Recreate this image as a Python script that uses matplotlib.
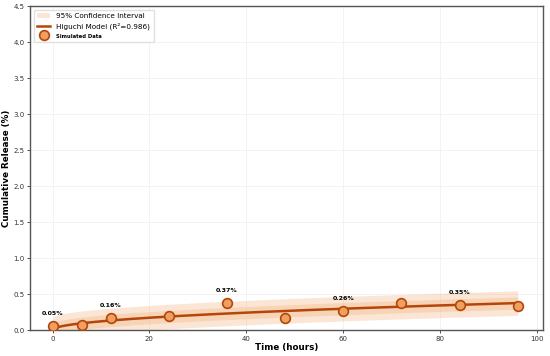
import numpy as np
import matplotlib
matplotlib.use("Agg")
import matplotlib.pyplot as plt

# simulated release data
time_h = [0, 6, 12, 24, 36, 48, 60, 72, 84, 96]
release = [0.05, 0.07, 0.16, 0.20, 0.37, 0.16, 0.26, 0.37, 0.35, 0.34]
label_idx = [0, 2, 4, 6, 8]

# Higuchi fit: Q = k * sqrt(t), least squares through origin
r2_text = "0.986"
ci_outer = 0.17
ci_inner = 0.085

t = np.array(time_h, dtype=float)
q = np.array(release)
k = np.sum(q * np.sqrt(t)) / np.sum(t)
t_fit = np.linspace(0, 96, 200)
q_fit = k * np.sqrt(t_fit)

line_c = "#B5460A"
fill_c = "#F4B98A"
marker_c = "#EFA060"

fig = plt.figure(figsize=(5.5, 3.56), dpi=100)
ax = fig.add_axes([0.055, 0.073, 0.932, 0.910])

ax.fill_between(t_fit, q_fit - ci_outer, q_fit + ci_outer, color=fill_c,
                alpha=0.35, linewidth=0, label="95% Confidence Interval")
ax.fill_between(t_fit, q_fit - ci_inner, q_fit + ci_inner, color=fill_c,
                alpha=0.4, linewidth=0)
ax.plot(t_fit, q_fit, color=line_c, linewidth=1.8,
        label=f"Higuchi Model (R²={r2_text})")
ax.plot(t, q, "o", markersize=7, markerfacecolor=marker_c,
        markeredgecolor=line_c, markeredgewidth=1.2, label="Simulated Data",
        zorder=5)

for i in label_idx:
    ax.annotate(f"{release[i]:.2f}%", (time_h[i], release[i]),
                textcoords="offset points", xytext=(0, 8), ha="center",
                fontsize=4.5, fontweight="bold")

ax.set_xlim(-4.6, 101.2)
ax.set_ylim(0, 4.5)
ax.set_xticks([0, 20, 40, 60, 80, 100])
ax.set_yticks(np.arange(0, 4.51, 0.5))
ax.tick_params(labelsize=5, length=2.5, width=0.6, pad=1.5, colors="#333333")
ax.grid(True, color="#eeeeee", linewidth=0.5)
ax.set_axisbelow(True)
for s in ax.spines.values():
    s.set_color("#555555")
    s.set_linewidth(1.0)

ax.set_xlabel("Time (hours)", fontsize=6.3, fontweight="bold", labelpad=1)
ax.set_ylabel("Cumulative Release (%)", fontsize=6.3, fontweight="bold",
              labelpad=2)

leg = ax.legend(loc="upper left", fontsize=5.2, frameon=True,
                framealpha=0.9, edgecolor="#dddddd", handlelength=1.8,
                borderpad=0.5, labelspacing=0.4)
leg.get_texts()[2].set_fontsize(3.8)
leg.get_texts()[2].set_fontweight("bold")

fig.savefig("out.png", dpi=100)
